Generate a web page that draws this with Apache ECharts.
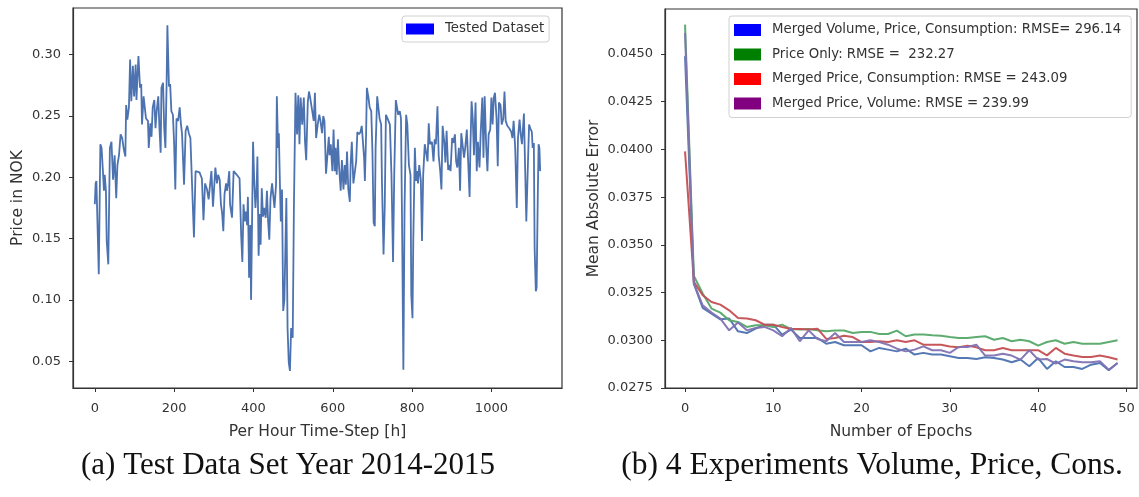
<!DOCTYPE html>
<html>
<head>
<meta charset="utf-8">
<script src="https://cdn.jsdelivr.net/npm/echarts@6/dist/echarts.min.js"></script>
<style>
  html, body { margin: 0; padding: 0; background: #fff; }
  #chart { width: 1139px; height: 497px; }
</style>
</head>
<body>
<div id="chart"></div>
<script>
// ---------- Left panel: test data set (hour, price in NOK) ----------
const hours = [0,2,4,10,14,17,21,23,25,28,30,34,38,42,46,50,54,57,61,65,69,73,77,79,82,86,89,92,96,99,103,105,110,114,117,119,123,126,129,134,136,140,143,146,150,153,156,160,163,166,168,172,175,178,181,183,187,190,193,197,200,203,206,210,214,217,220,225,229,233,237,241,245,250,254,258,
264,270,274,278,283,287,291,294,298,301,304,308,311,315,318,321,324,327,331,333,336,339,341,346,350,354,358,365,369,372,375,378,381,384,386,389,392,394,399,402,405,408,410,413,416,418,421,424,427,431,434,437,440,443,447,450,453,457,459,462,464,467,469,472,475,478,483,486,489,492,495,499,502,506,510,513,516,519,523,527,530,533,537,540,
543,548,552,555,558,562,566,569,573,576,579,583,586,590,592,595,599,602,605,607,610,613,616,620,623,627,630,633,636,639,643,645,648,652,655,659,662,666,670,673,676,679,681,684,686,690,693,697,700,703,706,708,712,715,718,722,724,728,731,734,738,741,744,748,752,755,759,762,765,769,772,775,778,781,785,788,792,796,798,801,803,807,810,813,815,818,822,825,828,832,835,839,842,845,
850,854,857,860,864,867,871,874,877,881,884,887,891,894,897,901,904,908,911,914,918,921,924,928,931,934,938,941,945,947,950,953,956,960,963,966,970,973,977,980,983,987,990,993,997,1000,1003,1006,1009,1013,1016,1019,1023,1026,1030,1033,1036,1040,1045,1050,1053,1056,1060,1064,1067,1071,1074,1077,1082,1085,1088,1092,1095,1098,1102,1104,1107,1109,1112,1114,1117,1119,1121,1123];
const prices = [0.178,0.195,0.197,0.121,0.227,0.224,0.202,0.189,0.202,0.189,0.148,0.129,0.224,0.229,0.198,0.218,0.183,0.210,0.218,0.235,0.232,0.223,0.217,0.259,0.247,0.257,0.296,0.262,0.291,0.266,0.292,0.263,0.299,0.273,0.276,0.243,0.266,0.266,0.248,0.246,0.224,0.244,0.233,0.257,0.263,0.240,0.254,0.266,0.240,0.220,0.273,0.277,0.240,0.224,0.276,0.324,0.274,0.276,0.254,0.251,0.227,0.190,0.248,0.246,0.257,0.244,0.235,0.194,0.238,0.242,0.236,0.232,0.231,0.151,0.205,0.206,
0.204,0.199,0.165,0.195,0.190,0.182,0.183,0.205,0.176,0.175,0.208,0.195,0.202,0.198,0.178,0.171,0.156,0.186,0.195,0.189,0.195,0.205,0.178,0.167,0.205,0.205,0.202,0.199,0.153,0.131,0.178,0.164,0.172,0.161,0.184,0.118,0.161,0.100,0.229,0.197,0.175,0.191,0.217,0.136,0.170,0.145,0.191,0.168,0.175,0.167,0.189,0.164,0.149,0.183,0.195,0.195,0.175,0.194,0.266,0.224,0.236,0.191,0.164,0.190,0.091,0.100,0.183,0.077,0.049,0.042,0.077,0.069,0.175,0.269,0.235,0.267,0.227,0.265,0.243,0.265,0.229,0.214,0.261,0.270,
0.265,0.264,0.246,0.269,0.232,0.243,0.251,0.246,0.236,0.250,0.246,0.203,0.202,0.233,0.218,0.227,0.205,0.239,0.205,0.224,0.202,0.231,0.208,0.189,0.214,0.190,0.210,0.194,0.221,0.191,0.180,0.210,0.229,0.195,0.194,0.213,0.237,0.235,0.237,0.242,0.243,0.216,0.197,0.235,0.273,0.265,0.257,0.254,0.221,0.163,0.160,0.224,0.266,0.257,0.248,0.243,0.197,0.137,0.175,0.251,0.248,0.247,0.243,0.202,0.131,0.202,0.263,0.257,0.251,0.254,0.248,0.153,0.043,0.175,0.251,0.243,0.210,0.202,0.104,0.085,0.148,0.224,0.197,0.205,0.195,0.210,0.198,0.148,0.202,0.227,0.228,0.213,0.244,0.227,
0.229,0.213,0.231,0.227,0.258,0.218,0.205,0.190,0.242,0.229,0.212,0.238,0.206,0.210,0.205,0.232,0.228,0.235,0.213,0.208,0.224,0.189,0.236,0.235,0.216,0.224,0.239,0.216,0.184,0.224,0.262,0.248,0.218,0.261,0.205,0.229,0.208,0.236,0.265,0.216,0.266,0.224,0.205,0.235,0.239,0.265,0.243,0.265,0.269,0.248,0.209,0.261,0.259,0.243,0.248,0.270,0.246,0.242,0.240,0.237,0.232,0.246,0.224,0.175,0.232,0.247,0.235,0.227,0.252,0.208,0.164,0.210,0.243,0.240,0.237,0.224,0.228,0.142,0.107,0.110,0.186,0.227,0.224,0.205];
const leftXTicks = [0, 200, 400, 600, 800, 1000];
const leftYStep = 0.05;   // y tick labels 0.05 ... 0.30

// ---------- Right panel: MAE per epoch for 4 experiments ----------
const epochs = Array.from({length: 50}, (_, i) => i);
const maeVolPriceCons = [0.04488,0.03297,0.03170,0.03140,0.03110,0.03114,0.03047,0.03038,0.03061,0.03082,0.03082,0.03030,0.03056,0.03012,0.03012,0.03012,0.02982,0.02991,0.02974,0.02974,0.02974,0.02942,0.02960,0.02951,0.02942,0.02956,0.02925,0.02934,0.02925,0.02925,0.02916,0.02907,0.02907,0.02902,0.02911,0.02907,0.02899,0.02885,0.02899,0.02864,0.02907,0.02850,0.02890,0.02860,0.02860,0.02850,0.02872,0.02881,0.02843,0.02881];
const maePriceOnly = [0.04654,0.03337,0.03245,0.03166,0.03145,0.03105,0.03096,0.03070,0.03079,0.03079,0.03070,0.03082,0.03059,0.03056,0.03059,0.03052,0.03047,0.03051,0.03051,0.03038,0.03044,0.03044,0.03033,0.03033,0.03051,0.03021,0.03030,0.03030,0.03026,0.03024,0.03017,0.03012,0.03012,0.03017,0.03021,0.03003,0.03012,0.02995,0.03003,0.02995,0.02972,0.02991,0.03000,0.02982,0.02991,0.02982,0.02982,0.02982,0.02991,0.03000];
const maePriceCons = [0.03990,0.03306,0.03236,0.03201,0.03187,0.03157,0.03117,0.03114,0.03105,0.03082,0.03082,0.03070,0.03059,0.03059,0.03056,0.03061,0.03007,0.03012,0.03024,0.03017,0.02991,0.02991,0.02995,0.02991,0.03000,0.02991,0.03000,0.02977,0.02977,0.02977,0.02968,0.02963,0.02972,0.02963,0.02948,0.02948,0.02960,0.02948,0.02948,0.02948,0.02948,0.02921,0.02960,0.02930,0.02920,0.02913,0.02913,0.02920,0.02911,0.02899];
const maePriceVol = [0.04611,0.03297,0.03183,0.03145,0.03114,0.03052,0.03093,0.03052,0.03065,0.03070,0.03052,0.03021,0.03065,0.02995,0.03052,0.03007,0.02995,0.03038,0.02991,0.02991,0.02991,0.03000,0.02991,0.02977,0.02956,0.02942,0.02951,0.02968,0.02948,0.02948,0.02934,0.02965,0.02965,0.02977,0.02920,0.02920,0.02930,0.02920,0.02899,0.02948,0.02899,0.02902,0.02878,0.02899,0.02890,0.02885,0.02885,0.02890,0.02846,0.02881];
const rightXTicks = [0, 10, 20, 30, 40, 50];
const rightYStep = 0.0025; // y tick labels 0.0275 ... 0.0450
const seriesNames = [
  'Merged Volume, Price, Consumption: RMSE= 296.14',
  'Price Only: RMSE =  232.27',
  'Merged Price, Consumption: RMSE = 243.09',
  'Merged Price, Volume: RMSE = 239.99'
];
const lineColors = ['#4c72b0', '#55a868', '#c44e52', '#8172b2'];
const patchColors = ['#0000ff', '#008000', '#ff0000', '#800080'];

const FONT = 'DejaVu Sans';
const TXT = '#333';

function onStep(v, step) {
  const k = v / step;
  return Math.abs(k - Math.round(k)) < 1e-6;
}

function xAxisCfg(grid, min, max, ticks, name) {
  return {
    type: 'value', gridIndex: grid, min: min, max: max, position: 'bottom',
    name: name, nameLocation: 'middle', nameGap: 36,
    nameTextStyle: { fontFamily: FONT, fontSize: 15.5, color: TXT },
    axisLine: { show: true, onZero: false, lineStyle: { color: '#333', width: 1.2 } },
    axisTick: { show: true, length: 4, lineStyle: { color: TXT, width: 1 }, customValues: ticks },
    axisLabel: { fontFamily: FONT, fontSize: 13, color: TXT, margin: 14, customValues: ticks,
      formatter: v => String(v) },
    splitLine: { show: false }
  };
}
function yAxisCfg(grid, min, max, step, extra, name, gap, dec) {
  return Object.assign({
    type: 'value', gridIndex: grid, min: min, max: max, position: 'left',
    name: name, nameLocation: 'middle', nameGap: gap, nameRotate: 90,
    nameTextStyle: { fontFamily: FONT, fontSize: 15.5, color: TXT },
    axisLine: { show: true, onZero: false, lineStyle: { color: '#333', width: 1.2 } },
    axisTick: { show: true, length: 4, lineStyle: { color: TXT, width: 1 } },
    axisLabel: { fontFamily: FONT, fontSize: 13, color: TXT, margin: 12,
      showMinLabel: onStep(min, step), showMaxLabel: onStep(max, step),
      formatter: v => onStep(v, step) ? Number(v).toFixed(dec) : '' },
    splitLine: { show: false }
  }, extra);
}

const chart = echarts.init(document.getElementById('chart'), null, { renderer: 'canvas' });
const option = {
  backgroundColor: '#ffffff',
  animation: false,
  grid: [
    { left: 73, top: 8, width: 489, height: 380, show: true, borderColor: '#333', borderWidth: 1.2, backgroundColor: 'transparent' },
    { left: 665, top: 9, width: 472, height: 379, show: true, borderColor: '#333', borderWidth: 1.2, backgroundColor: 'transparent' }
  ],
  xAxis: [
    xAxisCfg(0, -55, 1178, leftXTicks, 'Per Hour Time-Step [h]'),
    xAxisCfg(1, -2.27, 51.2, rightXTicks, 'Number of Epochs')
  ],
  yAxis: [
    yAxisCfg(0, 0.0281, 0.3381, leftYStep, { splitNumber: 6 }, 'Price in NOK', 47, 2),
    yAxisCfg(1, 0.0275, 0.04736, rightYStep, { interval: rightYStep }, 'Mean Absolute Error', 63, 4)
  ],
  legend: [
    {
      left: 402, top: 16, orient: 'vertical', icon: 'rect', itemWidth: 28, itemHeight: 11,
      padding: [6.5, 5, 6.5, 4], borderColor: '#d0d0d0', borderWidth: 1, borderRadius: 3,
      backgroundColor: 'rgba(255,255,255,0.85)', selectedMode: false,
      textStyle: { fontFamily: FONT, fontSize: 13.3, color: TXT, padding: [0, 0, 0, 6] },
      data: [{ name: 'Tested Dataset', itemStyle: { color: '#0000ff', borderWidth: 0 } }]
    },
    {
      left: 729, top: 16, orient: 'vertical', icon: 'rect', itemWidth: 27, itemHeight: 12,
      itemGap: 8.5, padding: [6, 10, 6, 5], borderColor: '#d0d0d0', borderWidth: 1, borderRadius: 3,
      backgroundColor: 'rgba(255,255,255,0.85)', selectedMode: false,
      textStyle: { fontFamily: FONT, fontSize: 13.3, color: TXT, lineHeight: 16, padding: [0, 0, 0, 6] },
      data: seriesNames.map((n, i) => ({ name: n, itemStyle: { color: patchColors[i], borderWidth: 0 } }))
    }
  ],
  series: [
    {
      name: 'Tested Dataset', type: 'line', xAxisIndex: 0, yAxisIndex: 0,
      data: hours.map((h, i) => [h, prices[i]]),
      showSymbol: false, symbol: 'none',
      lineStyle: { color: '#4c72b0', width: 1.8 }, itemStyle: { color: '#4c72b0' }
    }
  ].concat([maeVolPriceCons, maePriceOnly, maePriceCons, maePriceVol].map((arr, i) => ({
    name: seriesNames[i], type: 'line', xAxisIndex: 1, yAxisIndex: 1,
    data: epochs.map((e, j) => [e, arr[j]]),
    showSymbol: false, symbol: 'none',
    lineStyle: { color: lineColors[i], width: 2, opacity: 0.95 }, itemStyle: { color: lineColors[i] }
  }))),
  graphic: [
    { type: 'text', x: 288, y: 466, style: { text: '(a) Test Data Set Year 2014-2015', font: '31px "Liberation Serif"', fill: '#111', textAlign: 'center', textVerticalAlign: 'middle' } },
    { type: 'text', x: 872, y: 466, style: { text: '(b) 4 Experiments Volume, Price, Cons.', font: '31.5px "Liberation Serif"', fill: '#111', textAlign: 'center', textVerticalAlign: 'middle' } }
  ]
};
chart.setOption(option);
</script>
</body>
</html>
